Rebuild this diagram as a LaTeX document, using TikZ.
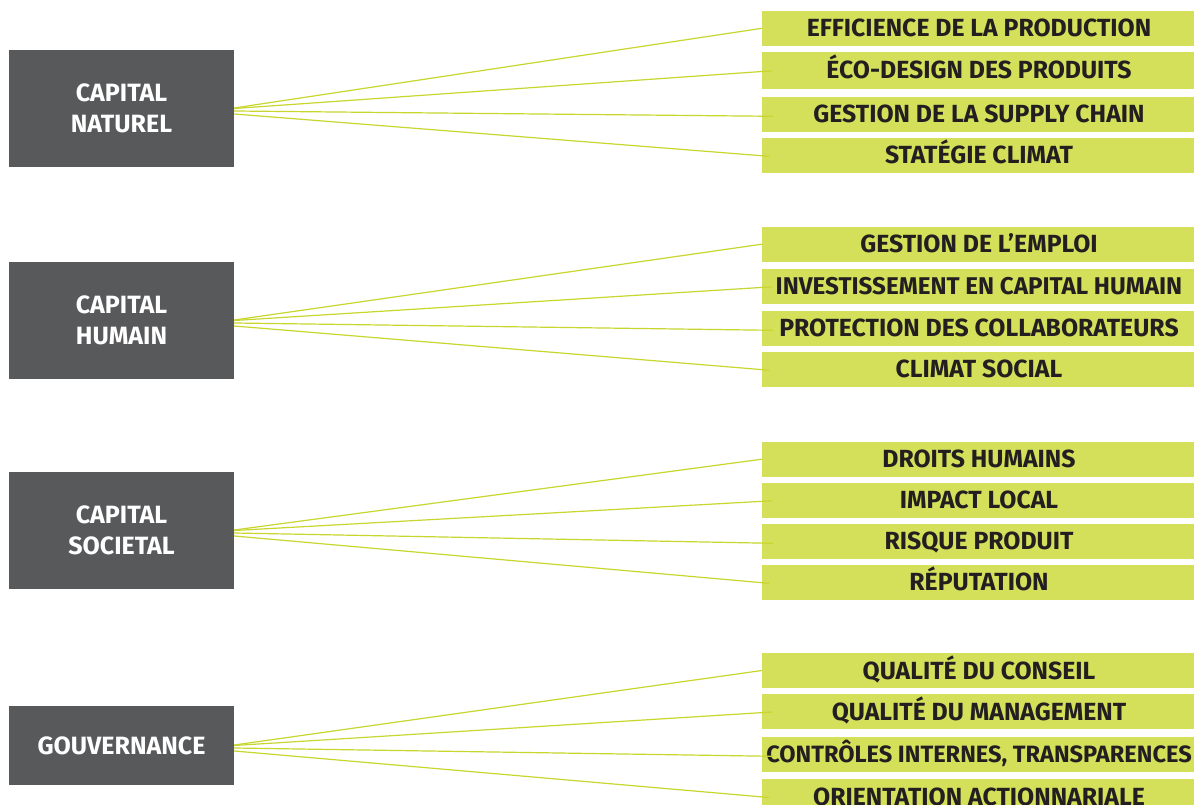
\documentclass[tikz,border=0pt]{standalone}
\usepackage{fontspec}
\setmainfont{Fira Sans}
\usetikzlibrary{calc}
\definecolor{darkbox}{HTML}{58595B}
\definecolor{greenbox}{HTML}{D4E05A}
\definecolor{greenline}{HTML}{C8D62E}
\definecolor{labeltext}{HTML}{231F20}
\begin{document}
\begin{tikzpicture}[x=1pt,y=-1pt,
  capbox/.style={fill=darkbox, draw=none, minimum width=225pt, text=white,
    font=\bfseries\fontsize{25}{31}\selectfont, align=center, inner sep=0pt},
  itembox/.style={fill=greenbox, draw=none, minimum width=434pt, minimum height=35pt,
    inner sep=0pt, text=labeltext, text height=17pt, text depth=0pt,
    font=\bfseries\fontsize{24.8}{28}\selectfont},
  link/.style={draw=greenline, line width=1.2pt}]
\useasboundingbox (0,0) rectangle (1194,805);
\clip (0,0) rectangle (1194,805);
\fill[white] (0,0) rectangle (1194,805);

% left category boxes
\node[capbox, minimum height=117pt] (L1) at (121.5,108.5) {CAPITAL\\NATUREL};
\node[capbox, minimum height=117pt] (L2) at (121.5,320.5) {CAPITAL\\HUMAIN};
\node[capbox, minimum height=117pt] (L3) at (121.5,530.5) {CAPITAL\\SOCIETAL};
\node[capbox, minimum height=79pt] (L4) at (121.5,745.5) {GOUVERNANCE};

% right item boxes
\node[itembox] (G11) at (979,28.3) {EFFICIENCE DE LA PRODUCTION};
\node[itembox, minimum height=37pt] (G12) at (979,70.3) {ÉCO-DESIGN DES PRODUITS};
\node[itembox] (G13) at (979,114.3) {GESTION DE LA SUPPLY CHAIN};
\node[itembox] (G14) at (979,155.3) {STATÉGIE CLIMAT};

\node[itembox] (G21) at (979,244.2) {GESTION DE L’EMPLOI};
\node[itembox, font=\bfseries\fontsize{24.2}{28}\selectfont] (G22) at (979,286.3) {INVESTISSEMENT EN CAPITAL HUMAIN};
\node[itembox] (G23) at (979,328.3) {PROTECTION DES COLLABORATEURS};
\node[itembox] (G24) at (979,369.2) {CLIMAT SOCIAL};

\node[itembox] (G31) at (979,459.2) {DROITS HUMAINS};
\node[itembox] (G32) at (979,500.3) {IMPACT LOCAL};
\node[itembox] (G33) at (979,541.3) {RISQUE PRODUIT};
\node[itembox] (G34) at (979,582.3) {RÉPUTATION};

\node[itembox] (G41) at (979,670.5) {QUALITÉ DU CONSEIL};
\node[itembox] (G42) at (979,711.5) {QUALITÉ DU MANAGEMENT};
\node[itembox, font=\bfseries\fontsize{23.6}{28}\selectfont] (G43) at (979,754.3) {CONTRÔLES INTERNES, TRANSPARENCES};
\node[itembox] (G44) at (979,796.5) {ORIENTATION ACTIONNARIALE};

% connectors
\foreach \g in {1,2,3,4}{
  \draw[link] ($(L\g.east)+(0,-0.5)$) -- ($(G\g1.west)+(0,0)$);
  \draw[link] ($(L\g.east)+(0,0)$) -- ($(G\g2.west)+(10,0.5)$);
  \draw[link] ($(L\g.east)+(0,2.5)$) -- ($(G\g3.west)+(11,2)$);
  \draw[link] ($(L\g.east)+(0,5.5)$) -- ($(G\g4.west)+(7,1)$);
}
\end{tikzpicture}
\end{document}
